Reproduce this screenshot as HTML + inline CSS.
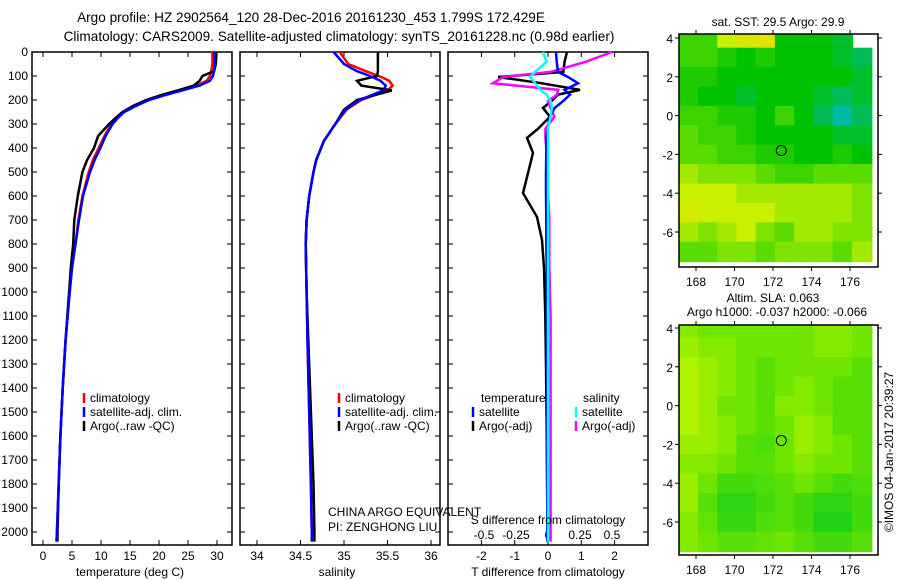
<!DOCTYPE html>
<html><head><meta charset="utf-8">
<style>
body{margin:0;background:#fff}
svg{display:block;font-family:"Liberation Sans",sans-serif;font-size:12px}
</style></head>
<body>
<svg id="fig" width="900" height="580" viewBox="0 0 900 580" xmlns="http://www.w3.org/2000/svg">
<rect width="900" height="580" fill="#fff"/>
<text x="311" y="22" text-anchor="middle" font-size="13.6">Argo profile: HZ 2902564_120 28-Dec-2016 20161230_453 1.799S 172.429E</text>
<text x="339" y="41" text-anchor="middle" font-size="13.6">Climatology: CARS2009. Satellite-adjusted climatology: synTS_20161228.nc (0.98d earlier)</text>
<g id="g"></g>
</svg>
<script>
// ---------- data ----------
const depthTicks=[0,100,200,300,400,500,600,700,800,900,1000,1100,1200,1300,1400,1500,1600,1700,1800,1900,2000];
const tempTicks=[0,5,10,15,20,25,30];
const salTicks=[34,34.5,35,35.5,36];
const tdiffTicks=[-2,-1,0,1,2];
const sdiffTicks=[-0.5,-0.25,0,0.25,0.5];
const tDepths=[0,50,80,100,120,140,160,180,200,225,250,275,300,350,400,450,500,600,700,800,900,1000,1200,1400,1600,1800,2000,2040];
const tempClim=[29.2,29.2,29.0,28.8,28.2,26.5,23.5,20.5,18,15.8,13.8,12.7,11.8,10.6,9.6,8.6,7.9,6.8,6.1,5.6,5.0,4.6,3.9,3.4,3.0,2.7,2.4,2.3];
const tempSat=[29.6,29.6,29.5,29.3,28.8,27,24,21,18.3,16,14,12.9,12,10.8,9.9,8.9,8.1,6.9,6.2,5.6,5.0,4.6,3.9,3.4,3.0,2.7,2.4,2.4];
const tempArgo=[29.9,29.8,29.5,27.5,27.0,26,23.2,20.3,17.8,15.5,13.7,12.5,11.4,9.5,8.8,7.6,6.8,6.0,5.4,5.2,4.8,4.5,3.9,3.4,3.0,2.7,2.5,2.5];
const sDepths=[0,50,80,100,120,140,160,180,200,240,300,370,450,500,600,700,800,1000,1200,1500,1800,2000,2040];
const salClim=[34.95,35.05,35.25,35.4,35.52,35.56,35.5,35.35,35.2,35.03,34.9,34.77,34.68,34.65,34.6,34.57,34.56,34.57,34.58,34.6,34.62,34.63,34.63];
const salSat=[34.88,35.0,35.15,35.3,35.42,35.48,35.45,35.32,35.18,35.02,34.9,34.77,34.68,34.65,34.6,34.57,34.56,34.57,34.58,34.6,34.62,34.63,34.63];
const salArgo=[35.39,35.39,35.39,35.38,35.15,35.2,35.55,35.35,35.15,35.0,34.9,34.77,34.68,34.65,34.6,34.57,34.56,34.57,34.59,34.62,34.65,34.66,34.66];
const dDepths=[0,40,83,104,130,158,178,205,233,270,320,358,420,505,588,687,783,900,1100,1300,1600,1900,2040];
const tdiffArgo=[0.57,0.5,0.46,-1.5,-0.2,0.96,0.3,0.1,-0.15,0.06,-0.3,-0.63,-0.45,-0.6,-0.75,-0.33,-0.18,-0.12,-0.08,-0.06,-0.04,-0.02,-0.02];
const tdiffSat=[0.24,0.26,0.3,0.6,0.9,0.5,0.66,0.45,0.2,0.05,0.0,-0.05,-0.05,-0.06,-0.06,-0.05,-0.05,-0.04,-0.04,-0.03,-0.03,-0.02,-0.02];
const sdiffArgo=[0.5,0.3,0.02,-0.35,-0.43,0.08,0.07,0.0,0.02,0.05,-0.02,-0.02,-0.01,0.0,0.0,0.01,0.01,0.01,0.02,0.02,0.02,0.02,0.02];
const sdiffSat=[-0.04,-0.01,-0.1,-0.14,-0.1,-0.06,-0.01,0.02,0.03,0.02,0.0,0.0,0.0,0.0,0.0,0.0,0.0,0.0,0.0,0.0,0.0,0.0,0.0];
const mapLats=[4,3,2,1,0,-1,-2,-3,-4,-5,-6,-7];
const mapLons=[167.6,168.6,169.6,170.6,171.6,172.6,173.6,174.6,175.6,176.6];
const sstGrid=[
[29.8,29.8,30.2,30.3,30.4,29.6,29.6,29.6,29.5,null],
[29.8,29.8,29.7,29.6,29.7,29.6,29.6,29.6,29.5,29.4],
[29.7,29.7,29.6,29.6,29.6,29.6,29.6,29.6,29.6,29.5],
[29.7,29.6,29.6,29.5,29.6,29.6,29.6,29.5,29.4,29.5],
[29.8,29.8,29.7,29.7,29.6,29.8,29.6,29.4,29.2,29.4],
[29.9,29.8,29.8,29.7,29.6,29.6,29.6,29.6,29.5,29.5],
[29.9,29.9,29.8,29.8,29.7,29.7,29.6,29.6,29.7,29.6],
[30.1,30.0,30.0,30.0,29.9,29.8,29.8,29.9,29.9,29.9],
[30.2,30.2,30.2,30.1,30.1,30.1,30.1,30.1,30.1,30.0],
[30.3,30.2,30.2,30.2,30.2,30.1,30.1,30.1,30.1,30.0],
[30.1,30.0,30.1,30.2,30.0,29.9,30.1,30.1,30.0,30.0],
[29.9,29.9,30.0,30.0,29.9,30.0,30.0,30.0,29.9,30.1]];
const slaGrid=[
[0.6,0.5,0.5,0.5,0.5,0.5,0.5,0.6,0.6,0.5],
[0.7,0.6,0.6,0.5,0.5,0.5,0.5,0.6,0.6,0.5],
[0.8,0.7,0.6,0.5,0.4,0.5,0.5,0.5,0.5,0.4],
[0.8,0.7,0.6,0.5,0.4,0.5,0.6,0.5,0.4,0.4],
[0.8,0.7,0.5,0.5,0.4,0.6,0.6,0.5,0.4,0.4],
[0.8,0.7,0.6,0.5,0.4,0.5,0.7,0.6,0.4,0.4],
[0.7,0.7,0.6,0.4,0.35,0.5,0.7,0.6,0.5,0.4],
[0.6,0.6,0.5,0.4,0.4,0.5,0.6,0.5,0.5,0.4],
[0.7,0.5,0.3,0.3,0.35,0.4,0.5,0.4,0.3,0.35],
[0.7,0.4,0.2,0.2,0.3,0.4,0.3,0.2,0.2,0.3],
[0.6,0.45,0.25,0.25,0.35,0.4,0.3,0.15,0.15,0.3],
[0.6,0.5,0.4,0.4,0.45,0.5,0.4,0.3,0.3,0.4]];
const floatLon=172.43, floatLat=-1.8;
const latTicks=[4,2,0,-2,-4,-6];
const lonTicks=[168,170,172,174,176];

// ---------- helpers ----------
const NS="http://www.w3.org/2000/svg";
const G=document.getElementById('g');
function mk(tag,attrs,parent){const e=document.createElementNS(NS,tag);for(const k in attrs)e.setAttribute(k,attrs[k]);(parent||G).appendChild(e);return e;}
const Y0=52, YS=0.24;
const yD=d=>Y0+d*YS;
const xT=t=>43+t*5.8;
const xS=s=>257+(s-34)*87;
const xTd=d=>548+d*33.3;
const xSd=d=>548+d*128;
const PB=545;

function panel(x0,x1,name){
  const r=mk('rect',{x:x0,y:Y0,width:x1-x0,height:PB-Y0,fill:'none',stroke:'#000','stroke-width':1.5});
  
  
  depthTicks.forEach(d=>{
    mk('line',{x1:x0,x2:x0+5,y1:yD(d),y2:yD(d),stroke:'#000'});
    mk('line',{x1:x1,x2:x1-5,y1:yD(d),y2:yD(d),stroke:'#000'});
  });
}
function xticks(vals,fx,x0,ly,name){
  vals.forEach(v=>{
    mk('line',{x1:fx(v),x2:fx(v),y1:Y0,y2:Y0+5,stroke:'#000'});
    mk('line',{x1:fx(v),x2:fx(v),y1:PB,y2:PB-5,stroke:'#000'});
    const t=mk('text',{x:fx(v),y:ly,'text-anchor':'middle'});t.textContent=String(v);
    
    
  });
}
function line(depths,vals,fx,color,name,w){
  const pts=depths.map((d,i)=>fx(vals[i]).toFixed(1)+','+yD(d).toFixed(1)).join(' ');
  const p=mk('polyline',{points:pts,fill:'none',stroke:color,'stroke-width':w||2.5});
  
  
}
function label(x,y,txt,name,anchor){
  const t=mk('text',{x:x,y:y,'text-anchor':anchor||'start'});t.textContent=txt;
  
  
  return t;
}
function legend(x,y,color,txt,name){
  mk('line',{x1:x,x2:x,y1:y-9,y2:y+1,stroke:color,'stroke-width':2.5});
  label(x+6,y,txt,name);
}

depthTicks.forEach(d=>{
  label(28,yD(d)+4,String(d),'depth-tick-label','end');
});

panel(32,232,'temperature-panel');
xticks(tempTicks,xT,32,560,'temperature-tick-label');
line(tDepths,tempClim,xT,'#f00','temp-climatology-line');
line(tDepths,tempArgo,xT,'#000','temp-argo-line');
line(tDepths,tempSat,xT,'#00f','temp-satellite-line');
label(130,576,'temperature (deg C)','temperature-axis-title','middle');
legend(84,402,'#f00','climatology','legend-climatology');
legend(84,416,'#00f','satellite-adj. clim.','legend-satellite');
legend(84,430,'#000','Argo(..raw -QC)','legend-argo');

panel(240,440,'salinity-panel');
xticks(salTicks,xS,240,560,'salinity-tick-label');
line(sDepths,salClim,xS,'#f00','sal-climatology-line');
line(sDepths,salArgo,xS,'#000','sal-argo-line');
line(sDepths,salSat,xS,'#00f','sal-satellite-line');
label(337,576,'salinity','salinity-axis-title','middle');
legend(339,402,'#f00','climatology','legend-climatology-2');
legend(339,416,'#00f','satellite-adj. clim.','legend-satellite-2');
legend(339,430,'#000','Argo(..raw -QC)','legend-argo-2');
label(328,516,'CHINA ARGO EQUIVALENT','pi-agency');
label(328,531,'PI: ZENGHONG LIU','pi-name');

panel(448,648,'difference-panel');
tdiffTicks.forEach(v=>{
  mk('line',{x1:xTd(v),x2:xTd(v),y1:Y0,y2:Y0+5,stroke:'#000'});
  mk('line',{x1:xTd(v),x2:xTd(v),y1:PB,y2:PB-5,stroke:'#000'});
  label(xTd(v),560,String(v),'tdiff-tick-label','middle');
});
sdiffTicks.forEach(v=>{label(xSd(v),539,String(v),'sdiff-tick-label','middle');});
line(dDepths,tdiffArgo,xTd,'#000','tdiff-argo-line');
line(dDepths,sdiffArgo,xSd,'#f0f','sdiff-argo-line');
line(dDepths,tdiffSat,xTd,'#00f','tdiff-satellite-line');
line(dDepths,sdiffSat,xSd,'#0ff','sdiff-satellite-line');
label(548,576,'T difference from climatology','tdiff-axis-title','middle');
label(548,524,'S difference from climatology','sdiff-axis-title','middle');
label(481,402,'temperature','legend-temperature-heading');
label(583,402,'salinity','legend-salinity-heading');
legend(473,416,'#00f','satellite','legend-t-satellite');
legend(473,430,'#000','Argo(-adj)','legend-t-argo');
legend(576,416,'#0ff','satellite','legend-s-satellite');
legend(576,430,'#f0f','Argo(-adj)','legend-s-argo');

function lerp(a,b,t){return a.map((v,i)=>Math.round(v+(b[i]-v)*t));}
function cmap(stops,v){
  if(v<=stops[0][0])return stops[0][1];
  for(let i=1;i<stops.length;i++){if(v<=stops[i][0]){const t=(v-stops[i-1][0])/(stops[i][0]-stops[i-1][0]);return lerp(stops[i-1][1],stops[i][1],t);}}
  return stops[stops.length-1][1];
}
const sstStops=[[29.0,[0,190,230]],[29.3,[0,185,130]],[29.6,[0,195,0]],[29.9,[90,220,0]],[30.2,[200,240,0]],[30.5,[240,220,0]],[30.8,[250,160,0]],[31.1,[170,0,0]]];
const slaStops=[[0,[0,200,30]],[0.5,[110,230,0]],[1,[220,250,0]]];
function drawMap(top,bottom,grid,stops,name,latAt4){
  const L=679,R=878;
  const xL=lon=>696+(lon-168)*19.25;
  const yL=lat=>latAt4+(4-lat)*19.4;
  const clip='clip-'+name;
  const cp=mk('clipPath',{id:clip});mk('rect',{x:L,y:top,width:R-L,height:bottom-top},cp);
  const g=mk('g',{'clip-path':'url(#'+clip+')'});
  
  
  mapLats.forEach((lat,i)=>mapLons.forEach((lon,j)=>{
    const v=grid[i][j]; if(v===null)return;
    const c=cmap(stops,v);
    const r=mk('rect',{x:(xL(lon-0.5)).toFixed(1),y:(yL(lat+0.5)).toFixed(1),width:20.5,height:20.5,fill:'rgb('+c.join(',')+')'},g);
    
    
  }));
  const b=mk('rect',{x:L,y:top,width:R-L,height:bottom-top,fill:'none',stroke:'#000','stroke-width':1.5});
  
  
  latTicks.forEach(v=>{
    mk('line',{x1:L-4,x2:L,y1:yL(v),y2:yL(v),stroke:'#000'});
    mk('line',{x1:R,x2:R+4,y1:yL(v),y2:yL(v),stroke:'#000'});
    label(L-6,yL(v)+5,String(v),name+'-lat-label','end');
  });
  lonTicks.forEach(v=>{
    mk('line',{x1:xL(v),x2:xL(v),y1:bottom,y2:bottom+4,stroke:'#000'});
    mk('line',{x1:xL(v),x2:xL(v),y1:top-4,y2:top,stroke:'#000'});
    label(xL(v),bottom+19,String(v),name+'-lon-label','middle');
  });
  const c=mk('circle',{cx:xL(floatLon),cy:yL(floatLat),r:5,fill:'none',stroke:'#000','stroke-width':1});
  
  
}
drawMap(34,267,sstGrid,sstStops,'sst-map',38);
drawMap(325,555,slaGrid,slaStops,'sla-map',328);
label(778,26,'sat. SST: 29.5 Argo: 29.9','sst-map-title','middle');
label(773,302,'Altim. SLA: 0.063','sla-map-title','middle');
label(777,316,'Argo h1000: -0.037 h2000: -0.066','sla-map-subtitle','middle');
const cr=label(0,0,'©IMOS 04-Jan-2017 20:39:27','imos-timestamp','middle');
cr.setAttribute('transform','translate(893,452) rotate(-90)');
</script>
</body></html>
